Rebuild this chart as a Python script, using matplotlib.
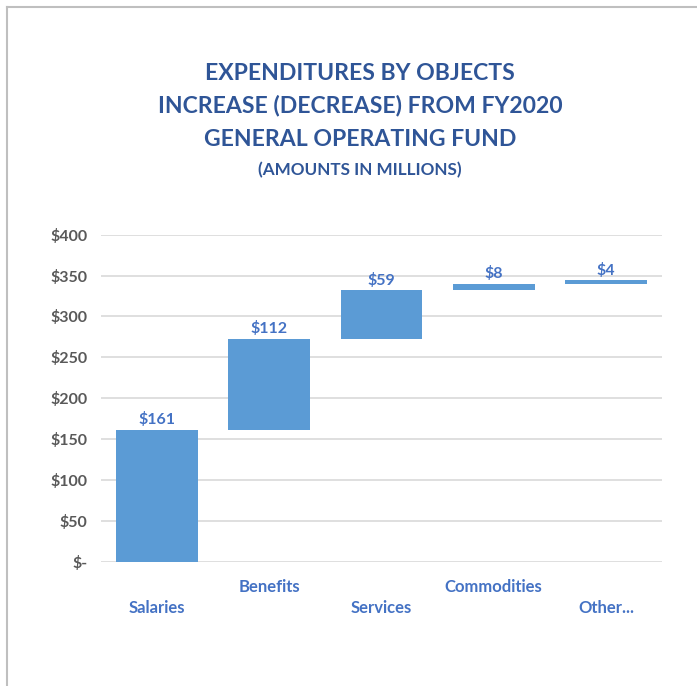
import matplotlib
matplotlib.use("Agg")
import matplotlib.pyplot as plt
from matplotlib.lines import Line2D
import numpy as np

categories = ["Salaries", "Benefits", "Services", "Commodities", "Other..."]
changes = [161, 112, 59, 8, 4]
value_labels = ["$161", "$112", "$59", "$8", "$4"]
yticks = [0, 50, 100, 150, 200, 250, 300, 350, 400]
ytick_labels = ["$-", "$50", "$100", "$150", "$200", "$250", "$300", "$350", "$400"]
title_lines = ["EXPENDITURES BY OBJECTS", "INCREASE (DECREASE) FROM FY2020", "GENERAL OPERATING FUND"]
subtitle = "(AMOUNTS IN MILLIONS)"

W, H = 697, 686
fig = plt.figure(figsize=(W / 100, H / 100), dpi=100)
fig.patch.set_facecolor("white")
font = "Lato"

# border
fig.add_artist(Line2D([7 / W, 1], [1 - 7 / H, 1 - 7 / H], color="#BFBFBF", lw=1.5))
fig.add_artist(Line2D([7 / W, 7 / W], [0, 1 - 7 / H], color="#BFBFBF", lw=1.5))

left, right = 101, 662
top, bottom = 234.7, 561.7
ax = fig.add_axes([left / W, 1 - bottom / H, (right - left) / W, (bottom - top) / H])

x = np.arange(len(categories))
bottoms = np.concatenate([[0], np.cumsum(changes)[:-1]])
ax.bar(x, changes, bottom=bottoms, width=0.73, color="#5B9BD5", zorder=3)
for xi, b, c, lab in zip(x, bottoms, changes, value_labels):
    ax.annotate(lab, (xi, b + c), xytext=(0, 2), textcoords="offset points",
                ha="center", va="bottom", color="#4472C4", fontsize=11.5,
                fontweight="bold", family=font)

ax.set_xlim(-0.5, len(categories) - 0.5)
ax.set_ylim(0, 400)
ax.set_yticks(yticks)
ax.set_yticklabels(ytick_labels, color="#595959", fontsize=11.5, fontweight="bold", family=font)
ax.tick_params(axis="y", length=0, pad=10)
ax.grid(axis="y", color="#D9D9D9", lw=1.2, zorder=0)
for s in ax.spines.values():
    s.set_visible(False)
ax.set_xticks(x)
ax.set_xticklabels([])
ax.tick_params(axis="x", length=0)
for i, cat in enumerate(categories):
    ypix = 587 if i % 2 == 1 else 608
    ax.text(i, -(ypix - bottom) / (bottom - top), cat, transform=ax.get_xaxis_transform(),
            ha="center", va="center", color="#4472C4", fontsize=12,
            fontweight="bold", family=font)

ys = [74, 106, 139]
for t, yp in zip(title_lines, ys):
    fig.text(360 / W, 1 - yp / H, t, ha="center", va="center", color="#2F5597",
             fontsize=16.6, fontweight="bold", family=font)
fig.text(360 / W, 1 - 170 / H, subtitle, ha="center", va="center", color="#2F5597",
         fontsize=12.3, fontweight="bold", family=font)

fig.savefig("out.png", dpi=100, facecolor="white")
